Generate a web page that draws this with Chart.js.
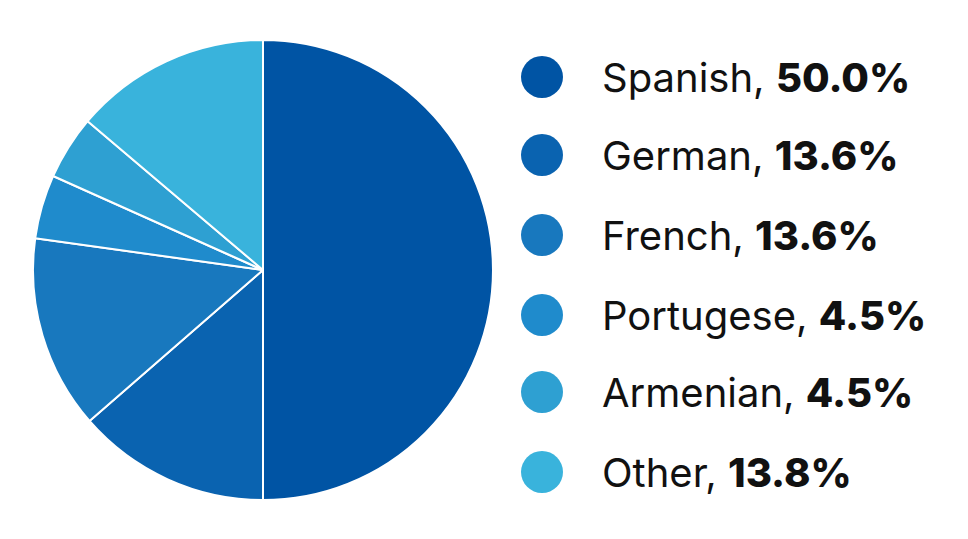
<!DOCTYPE html>
<html>
<head>
<meta charset="utf-8">
<script src="https://cdn.jsdelivr.net/npm/chart.js@4/dist/chart.umd.min.js"></script>
<style>
  html, body { margin: 0; padding: 0; background: #fff; }
  body { width: 968px; height: 539px; position: relative; overflow: hidden; font-family: "Inter", sans-serif; }
  #pieBox { position: absolute; left: 32px; top: 39px; width: 462px; height: 462px; }
  #legend { position: absolute; left: 521px; top: 0; }
  .row { position: absolute; left: 0; height: 44px; display: flex; align-items: center; white-space: nowrap; }
  .dot { width: 42px; height: 42px; border-radius: 50%; margin-right: 39px; flex: none; }
  .txt { font-size: 40px; color: #111; font-weight: 400; }
  .txt b { font-weight: 800; }
</style>
</head>
<body>
<div id="pieBox"><canvas id="chart"></canvas></div>
<div id="legend"></div>
<script>
var labels = ['Spanish', 'German', 'French', 'Portugese', 'Armenian', 'Other'];
var shares = [50.0, 13.6, 13.6, 4.5, 4.5, 13.8];
var colors = ['#0054a4', '#0a63b0', '#1878be', '#1f8bcc', '#2ea0d2', '#39b3dc'];
var rowCentres = [77, 155, 235, 315, 392, 472];

var ctx = document.getElementById('chart').getContext('2d');

var chart = new Chart(ctx, {
  type: 'pie',
  data: {
    labels: labels,
    datasets: [{
      data: shares,
      backgroundColor: colors,
      borderColor: '#ffffff',
      borderWidth: 2,
      hoverOffset: 0
    }]
  },
  options: {
    responsive: true,
    maintainAspectRatio: false,
    animation: false,
    plugins: {
      legend: { display: false },
      tooltip: { enabled: false }
    }
  }
});

// legend drawn as html so the percentage can be bold
var legend = document.getElementById('legend');
labels.forEach(function(name, i) {
  var row = document.createElement('div');
  row.className = 'row';
  row.style.top = (rowCentres[i] - 22) + 'px';
  row.innerHTML = '<div class="dot" style="background:' + colors[i] + '"></div>' +
    '<div class="txt">' + name + ', <b>' + shares[i].toFixed(1) + '%</b></div>';
  legend.appendChild(row);
});
</script>
</body>
</html>
